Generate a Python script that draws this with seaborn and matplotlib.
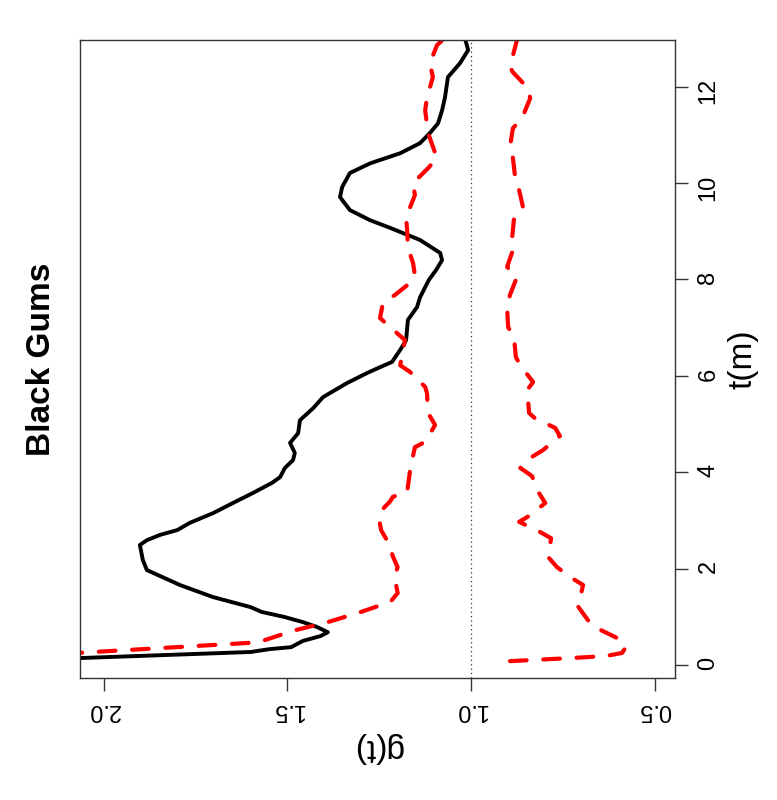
import numpy as np
import pandas as pd
import seaborn as sns
import matplotlib
matplotlib.use("Agg")
import matplotlib.pyplot as plt

# estimated pair correlation g(t) and simulation envelopes
t_black = [0.08, 0.27, 0.33, 0.37, 0.50, 0.60, 0.68, 0.79, 0.89, 1.00, 1.10, 1.20,
           1.41, 1.66, 1.97, 2.18, 2.49, 2.59, 2.70, 2.80, 2.95, 3.15, 3.36, 3.57,
           3.78, 3.90, 4.09, 4.25, 4.40, 4.61, 4.81, 5.08, 5.33, 5.56, 5.85, 6.06,
           6.18, 6.29, 6.54, 6.74, 7.16, 7.43, 7.63, 7.99, 8.20, 8.40, 8.55, 8.82,
           9.07, 9.23, 9.44, 9.71, 9.92, 10.21, 10.41, 10.62, 10.83, 11.04, 11.24,
           11.51, 11.78, 12.20, 12.49, 12.76, 13.10]
g_black = [2.30, 1.60, 1.548, 1.49, 1.458, 1.41, 1.39, 1.42, 1.458, 1.51, 1.57, 1.60,
           1.703, 1.793, 1.883, 1.894, 1.902, 1.883, 1.847, 1.80, 1.766, 1.703, 1.649, 1.594,
           1.542, 1.52, 1.507, 1.485, 1.48, 1.493, 1.471, 1.466, 1.43, 1.403, 1.338, 1.283,
           1.248, 1.215, 1.193, 1.177, 1.172, 1.147, 1.139, 1.115, 1.095, 1.079, 1.084, 1.139,
           1.22, 1.275, 1.33, 1.357, 1.351, 1.33, 1.275, 1.193, 1.139, 1.112, 1.09,
           1.079, 1.071, 1.063, 1.03, 1.008, 1.02]

t_upper = [0.08, 0.47, 0.71, 0.89, 1.10, 1.31, 1.49, 1.70, 1.87, 2.03, 2.20, 2.40,
           2.60, 2.80, 3.00, 3.20, 3.40, 3.49, 3.59, 4.05, 4.52, 4.63, 4.98, 5.23,
           5.64, 5.77, 6.08, 6.22, 6.74, 7.01, 7.20, 7.51, 7.68, 7.93, 8.09, 8.34,
           8.67, 9.02, 9.29, 9.75, 10.00, 10.31, 10.52, 11.04, 11.51, 11.78, 12.20,
           12.49, 12.86, 13.10]
g_upper = [2.45, 1.58, 1.485, 1.39, 1.30, 1.22, 1.20, 1.205, 1.207, 1.20, 1.21, 1.22,
           1.23, 1.245, 1.25, 1.245, 1.22, 1.213, 1.174, 1.166, 1.153, 1.125, 1.098, 1.117,
           1.12, 1.125, 1.166, 1.193, 1.18, 1.22, 1.248, 1.24, 1.207, 1.166, 1.153, 1.158,
           1.172, 1.174, 1.177, 1.153, 1.158, 1.117, 1.093, 1.117, 1.125, 1.12, 1.104,
           1.112, 1.093, 1.06]

t_lower = [0.08, 0.12, 0.16, 0.19, 0.25, 0.37, 0.54, 0.73, 0.87, 1.24, 1.39, 1.66,
           1.80, 2.03, 2.24, 2.63, 2.76, 2.97, 3.07, 3.36, 3.57, 3.92, 4.09, 4.32,
           4.46, 4.75, 4.92, 5.12, 5.23, 5.71, 5.87, 6.22, 6.39, 6.80, 7.01, 7.43,
           7.68, 8.05, 8.26, 8.61, 8.88, 9.27, 9.48, 9.85, 10.12, 10.52, 10.75, 11.14,
           11.35, 11.76, 11.97, 12.30, 12.41, 12.97, 13.10]
g_lower = [0.894, 0.79, 0.69, 0.63, 0.589, 0.578, 0.597, 0.648, 0.676, 0.711, 0.703, 0.695,
           0.725, 0.766, 0.79, 0.782, 0.812, 0.869, 0.847, 0.798, 0.815, 0.834, 0.866, 0.834,
           0.804, 0.758, 0.771, 0.826, 0.842, 0.847, 0.831, 0.866, 0.878, 0.883, 0.899, 0.902,
           0.894, 0.875, 0.902, 0.886, 0.888, 0.883, 0.858, 0.869, 0.88, 0.886, 0.894, 0.886,
           0.861, 0.839, 0.845, 0.886, 0.894, 0.875, 0.87]

g_ticks = [0.5, 1.0, 1.5, 2.0]
t_ticks = [0, 2, 4, 6, 8, 10, 12]

sns.set_theme(style="white")
plt.rcParams['font.family'] = ['Liberation Sans', 'DejaVu Sans']
plt.rcParams['text.color'] = 'black'
plt.rcParams['axes.labelcolor'] = 'black'
plt.rcParams['xtick.color'] = 'black'
plt.rcParams['ytick.color'] = 'black'

fig = plt.figure(figsize=(7.77, 8.0), dpi=100)
ax = fig.add_axes([0.103, 0.1525, 0.766, 0.7975])

sns.lineplot(x=g_black, y=t_black, sort=False, estimator=None, ax=ax,
             color='black', linewidth=2.8, solid_capstyle='round')
for g_env, t_env in [(g_upper, t_upper), (g_lower, t_lower)]:
    sns.lineplot(x=g_env, y=t_env, sort=False, estimator=None, ax=ax,
                 color='red', linewidth=3.0, linestyle=(0, (4, 4)),
                 dash_capstyle='round')
ax.axvline(1.0, color='#333333', linewidth=0.9, linestyle=(0, (1, 2.5)))

ax.set_xlim(2.065, 0.444)
ax.set_ylim(-0.27, 12.97)

ax.set_xticks(g_ticks)
ax.set_xticklabels([f"{v:.1f}" for v in g_ticks])
ax.set_yticks(t_ticks)
ax.yaxis.tick_right()
ax.yaxis.set_label_position('right')

ax.tick_params(axis='both', which='major', direction='out', length=9, width=1,
               color='#333333', labelcolor='black', labelsize=17,
               bottom=True, right=True, left=False)
ax.tick_params(axis='x', labelrotation=180, pad=6)
ax.tick_params(axis='y', labelrotation=90, pad=7)

for side in ['left', 'right', 'top', 'bottom']:
    ax.spines[side].set_color('#333333')
    ax.spines[side].set_linewidth(1.0)

ax.set_xlabel('g(t)', fontsize=24, rotation=180, labelpad=8, color='black')
ax.set_ylabel('t(m)', fontsize=24, rotation=90, labelpad=6, color='black')

fig.text(0.053, 0.551, 'Black Gums', rotation=90, fontsize=24, fontweight='bold',
         ha='center', va='center', color='black')

fig.savefig('out.png', dpi=100)
